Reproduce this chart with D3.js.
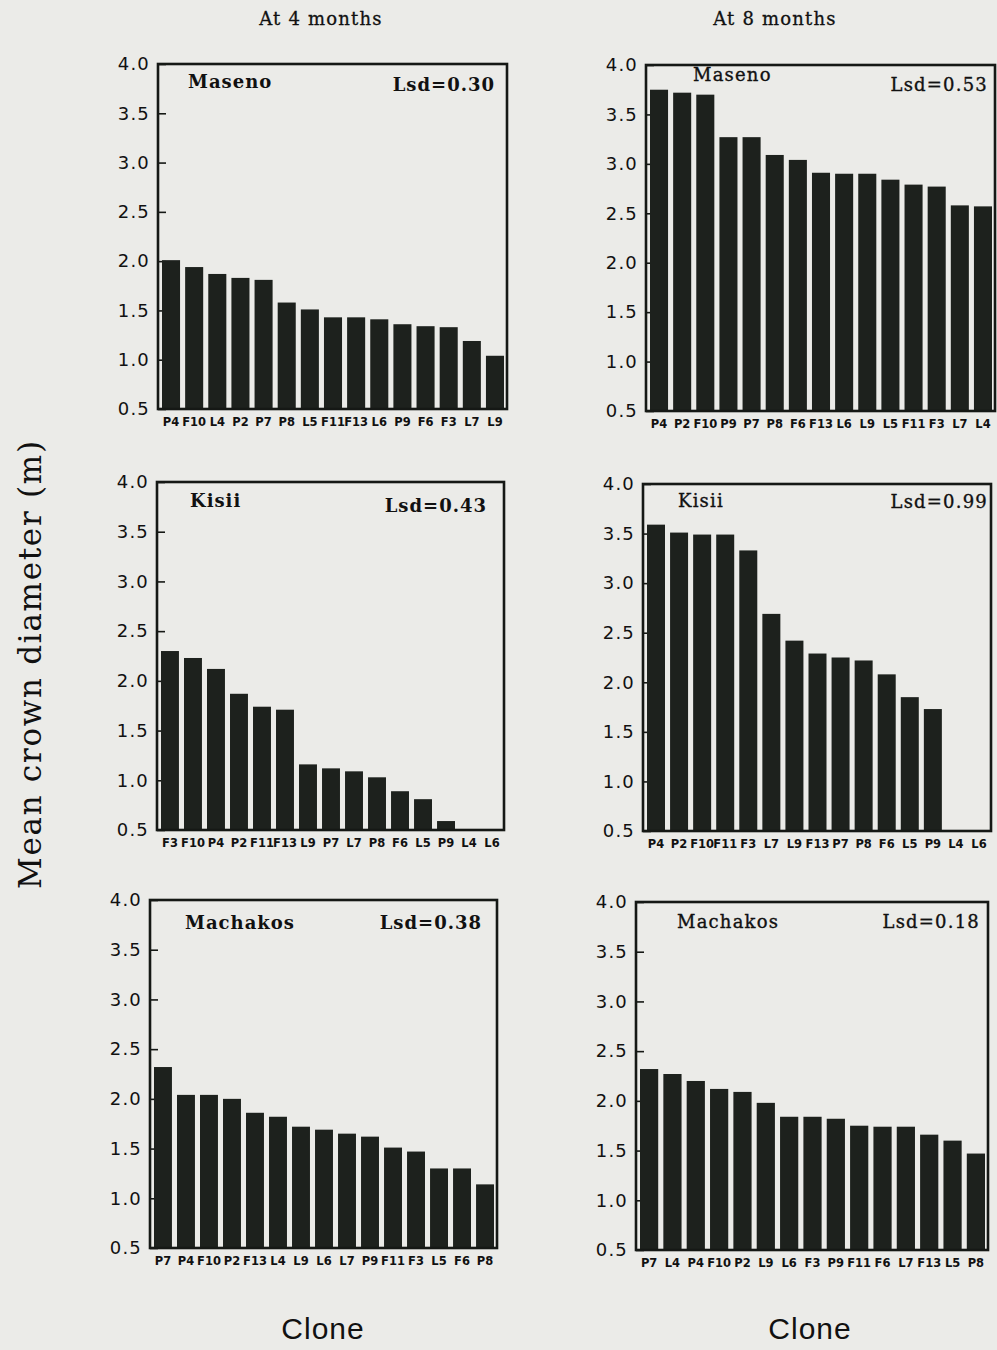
<!DOCTYPE html>
<html>
<head>
<meta charset="utf-8">
<script src="https://cdn.jsdelivr.net/npm/d3@7"></script>
<style>
  html, body { margin: 0; padding: 0; background: #ebebe8; }
  svg { display: block; }
</style>
</head>
<body>
<svg id="chart" width="997" height="1350"></svg>
<script>
// Shared y-axis tick values (mean crown diameter, m)
const yTicks = [0.5, 1.0, 1.5, 2.0, 2.5, 3.0, 3.5, 4.0];

// Clone order and mean crown diameter for each site and age
const masenoClones4 = ["P4","F10","L4","P2","P7","P8","L5","F11","F13","L6","P9","F6","F3","L7","L9"];
const masenoValues4 = [2.01, 1.94, 1.87, 1.83, 1.81, 1.58, 1.51, 1.43, 1.43, 1.41, 1.36, 1.34, 1.33, 1.19, 1.04];

const masenoClones8 = ["P4","P2","F10","P9","P7","P8","F6","F13","L6","L9","L5","F11","F3","L7","L4"];
const masenoValues8 = [3.75, 3.72, 3.70, 3.27, 3.27, 3.09, 3.04, 2.91, 2.90, 2.90, 2.84, 2.79, 2.77, 2.58, 2.57];

const kisiiClones4 = ["F3","F10","P4","P2","F11","F13","L9","P7","L7","P8","F6","L5","P9","L4","L6"];
const kisiiValues4 = [2.30, 2.23, 2.12, 1.87, 1.74, 1.71, 1.16, 1.12, 1.09, 1.03, 0.89, 0.81, 0.59, 0.50, 0.50];

const kisiiClones8 = ["P4","P2","F10","F11","F3","L7","L9","F13","P7","P8","F6","L5","P9","L4","L6"];
const kisiiValues8 = [3.59, 3.51, 3.49, 3.49, 3.33, 2.69, 2.42, 2.29, 2.25, 2.22, 2.08, 1.85, 1.73, 0.50, 0.50];

const machakosClones4 = ["P7","P4","F10","P2","F13","L4","L9","L6","L7","P9","F11","F3","L5","F6","P8"];
const machakosValues4 = [2.32, 2.04, 2.04, 2.00, 1.86, 1.82, 1.72, 1.69, 1.65, 1.62, 1.51, 1.47, 1.30, 1.30, 1.14];

const machakosClones8 = ["P7","L4","P4","F10","P2","L9","L6","F3","P9","F11","F6","L7","F13","L5","P8"];
const machakosValues8 = [2.32, 2.27, 2.20, 2.12, 2.09, 1.98, 1.84, 1.84, 1.82, 1.75, 1.74, 1.74, 1.66, 1.60, 1.47];

const sites = ["Maseno", "Kisii", "Machakos"];
const lsd4 = [0.30, 0.43, 0.38];
const lsd8 = [0.53, 0.99, 0.18];
const ageTitles = ["At 4 months", "At 8 months"];

// Frame placement for each panel (left column = 4 months, right column = 8 months)
const frames = [
  { x0: 158, y0: 64,  x1: 507, y1: 409,  nameDx: 30, nameDy: 24, lsdDx: -12, lsdDy: 27, bold: true  },
  { x0: 646, y0: 65,  x1: 995, y1: 411,  nameDx: 47, nameDy: 16, lsdDx: -7,  lsdDy: 26, bold: false },
  { x0: 157, y0: 482, x1: 504, y1: 830,  nameDx: 33, nameDy: 25, lsdDx: -17, lsdDy: 30, bold: true  },
  { x0: 643, y0: 484, x1: 991, y1: 831,  nameDx: 35, nameDy: 23, lsdDx: -3,  lsdDy: 24, bold: false },
  { x0: 150, y0: 900, x1: 497, y1: 1248, nameDx: 35, nameDy: 29, lsdDx: -15, lsdDy: 29, bold: true  },
  { x0: 636, y0: 902, x1: 988, y1: 1250, nameDx: 41, nameDy: 26, lsdDx: -8,  lsdDy: 26, bold: false }
];

const panels = [
  { clones: masenoClones4,   values: masenoValues4,   site: sites[0], lsd: lsd4[0] },
  { clones: masenoClones8,   values: masenoValues8,   site: sites[0], lsd: lsd8[0] },
  { clones: kisiiClones4,    values: kisiiValues4,    site: sites[1], lsd: lsd4[1] },
  { clones: kisiiClones8,    values: kisiiValues8,    site: sites[1], lsd: lsd8[1] },
  { clones: machakosClones4, values: machakosValues4, site: sites[2], lsd: lsd4[2] },
  { clones: machakosClones8, values: machakosValues8, site: sites[2], lsd: lsd8[2] }
];

const svg = d3.select("#chart");
const ink = "#151815";
const barFill = "#1d211d";

function styleTitle(sel, bold) {
  sel.attr("fill", "#111")
    .style("font-family", "'DejaVu Serif', serif")
    .style("font-weight", bold ? "bold" : "normal")
    .style("font-size", "18px")
    .style("letter-spacing", bold ? "1px" : "1.2px")
    .attr("stroke", bold ? "none" : "#111")
    .attr("stroke-width", bold ? 0 : 0.35);
}

function drawPanel(panel, f) {
  const g = svg.append("g");
  const x = d3.scaleBand()
    .domain(panel.clones)
    .range([f.x0 + 4, f.x1 - 3])
    .paddingInner(0.22)
    .paddingOuter(0);
  const y = d3.scaleLinear().domain([0.5, 4.0]).range([f.y1, f.y0]);

  // inward tick marks on the left edge
  const inTicks = g.append("g")
    .attr("transform", `translate(${f.x0},0)`)
    .call(d3.axisRight(y).tickValues(yTicks).tickSize(8).tickFormat(""));
  inTicks.select(".domain").remove();
  inTicks.selectAll("line").attr("stroke", ink).attr("stroke-width", 1.6);

  // tick labels outside the frame
  const yAxis = g.append("g")
    .attr("transform", `translate(${f.x0},0)`)
    .call(d3.axisLeft(y).tickValues(yTicks).tickSize(0).tickPadding(8).tickFormat(d3.format(".1f")));
  yAxis.select(".domain").remove();
  yAxis.selectAll("text")
    .attr("fill", "#111")
    .style("font-family", "'DejaVu Sans', sans-serif")
    .style("font-size", "18px")
    .style("letter-spacing", "1.2px");

  // bars
  g.append("g").selectAll("rect")
    .data(panel.clones.map((c, i) => ({ clone: c, value: panel.values[i] })))
    .join("rect")
    .attr("x", d => x(d.clone))
    .attr("width", x.bandwidth())
    .attr("y", d => y(Math.max(d.value, 0.5)))
    .attr("height", d => y(0.5) - y(Math.max(d.value, 0.5)))
    .attr("fill", barFill);

  // clone labels under the bars
  const xAxis = g.append("g")
    .attr("transform", `translate(0,${f.y1})`)
    .call(d3.axisBottom(x).tickSize(0).tickPadding(9));
  xAxis.select(".domain").remove();
  xAxis.selectAll("text")
    .attr("fill", "#111")
    .style("font-family", "'DejaVu Sans', sans-serif")
    .style("font-weight", "bold")
    .style("font-size", "11.5px");

  // frame
  g.append("rect")
    .attr("x", f.x0).attr("y", f.y0)
    .attr("width", f.x1 - f.x0).attr("height", f.y1 - f.y0)
    .attr("fill", "none")
    .attr("stroke", ink)
    .attr("stroke-width", 2.6);

  // site name and least significant difference
  g.append("text")
    .attr("x", f.x0 + f.nameDx).attr("y", f.y0 + f.nameDy)
    .call(styleTitle, f.bold)
    .text(panel.site);

  g.append("text")
    .attr("x", f.x1 + f.lsdDx).attr("y", f.y0 + f.lsdDy)
    .attr("text-anchor", "end")
    .call(styleTitle, f.bold)
    .text("Lsd=" + d3.format(".2f")(panel.lsd));
}

panels.forEach((p, i) => drawPanel(p, frames[i]));

// column headings
[{ t: ageTitles[0], cx: 321 }, { t: ageTitles[1], cx: 775 }].forEach(h => {
  svg.append("text")
    .attr("x", h.cx).attr("y", 25)
    .attr("text-anchor", "middle")
    .attr("fill", "#111")
    .attr("stroke", "#111")
    .attr("stroke-width", 0.3)
    .style("font-family", "'DejaVu Serif', serif")
    .style("font-size", "18px")
    .style("letter-spacing", "1.2px")
    .text(h.t);
});

// x-axis titles
[323, 810].forEach(cx => {
  svg.append("text")
    .attr("x", cx).attr("y", 1339)
    .attr("text-anchor", "middle")
    .attr("fill", "#111")
    .style("font-family", "'Liberation Sans', Arial, sans-serif")
    .style("font-size", "30px")
    .style("letter-spacing", "1px")
    .text("Clone");
});

// shared y-axis title
svg.append("text")
  .attr("transform", "translate(41,665) rotate(-90)")
  .attr("text-anchor", "middle")
  .attr("fill", "#111")
  .attr("textLength", 448)
  .attr("lengthAdjust", "spacing")
  .style("font-family", "'DejaVu Serif', serif")
  .style("font-size", "31px")
  .text("Mean crown diameter (m)");
</script>
</body>
</html>
